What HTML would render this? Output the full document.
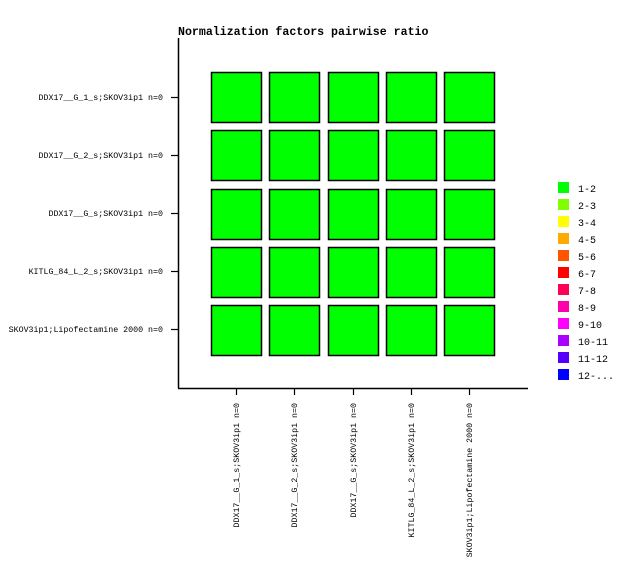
<!DOCTYPE html>
<html><head><meta charset="utf-8"><style>
html,body{margin:0;padding:0;background:#fff;}
svg text{font-family:"Liberation Mono","DejaVu Sans Mono",monospace;fill:#000;}
</style></head><body>
<svg width="636" height="560" xmlns="http://www.w3.org/2000/svg">
<rect width="636" height="560" fill="#fff"/>
<text x="178" y="35" font-size="11.6" font-weight="bold">Normalization factors pairwise ratio</text>
<line x1="178.5" y1="38" x2="178.5" y2="388" stroke="#000" stroke-width="1.5"/>
<line x1="178" y1="388.5" x2="528" y2="388.5" stroke="#000" stroke-width="1.5"/>
<g stroke="#000" stroke-width="1.2">
<line x1="171" y1="97.5" x2="178" y2="97.5"/>
<line x1="171" y1="155.5" x2="178" y2="155.5"/>
<line x1="171" y1="213.5" x2="178" y2="213.5"/>
<line x1="171" y1="271.5" x2="178" y2="271.5"/>
<line x1="171" y1="329.5" x2="178" y2="329.5"/>
<line x1="236.5" y1="388" x2="236.5" y2="395"/>
<line x1="294.5" y1="388" x2="294.5" y2="395"/>
<line x1="353.5" y1="388" x2="353.5" y2="395"/>
<line x1="411.5" y1="388" x2="411.5" y2="395"/>
<line x1="469.5" y1="388" x2="469.5" y2="395"/>
</g>
<g font-size="8.3" text-anchor="end">
<text x="163" y="100">DDX17__G_1_s;SKOV3ip1 n=0</text>
<text x="163" y="158">DDX17__G_2_s;SKOV3ip1 n=0</text>
<text x="163" y="216">DDX17__G_s;SKOV3ip1 n=0</text>
<text x="163" y="274">KITLG_84_L_2_s;SKOV3ip1 n=0</text>
<text x="163" y="332">SKOV3ip1;Lipofectamine 2000 n=0</text>
</g>
<g font-size="8.3" text-anchor="end">
<text transform="translate(239,403) rotate(-90)">DDX17__G_1_s;SKOV3ip1 n=0</text>
<text transform="translate(297,403) rotate(-90)">DDX17__G_2_s;SKOV3ip1 n=0</text>
<text transform="translate(356,403) rotate(-90)">DDX17__G_s;SKOV3ip1 n=0</text>
<text transform="translate(414,403) rotate(-90)">KITLG_84_L_2_s;SKOV3ip1 n=0</text>
<text transform="translate(472,403) rotate(-90)">SKOV3ip1;Lipofectamine 2000 n=0</text>
</g>
<g fill="#00ff00" stroke="#000" stroke-width="1.5">
<rect x="211.5" y="72.5" width="50" height="50"/><rect x="269.5" y="72.5" width="50" height="50"/><rect x="328.5" y="72.5" width="50" height="50"/><rect x="386.5" y="72.5" width="50" height="50"/><rect x="444.5" y="72.5" width="50" height="50"/>
<rect x="211.5" y="130.5" width="50" height="50"/><rect x="269.5" y="130.5" width="50" height="50"/><rect x="328.5" y="130.5" width="50" height="50"/><rect x="386.5" y="130.5" width="50" height="50"/><rect x="444.5" y="130.5" width="50" height="50"/>
<rect x="211.5" y="189.5" width="50" height="50"/><rect x="269.5" y="189.5" width="50" height="50"/><rect x="328.5" y="189.5" width="50" height="50"/><rect x="386.5" y="189.5" width="50" height="50"/><rect x="444.5" y="189.5" width="50" height="50"/>
<rect x="211.5" y="247.5" width="50" height="50"/><rect x="269.5" y="247.5" width="50" height="50"/><rect x="328.5" y="247.5" width="50" height="50"/><rect x="386.5" y="247.5" width="50" height="50"/><rect x="444.5" y="247.5" width="50" height="50"/>
<rect x="211.5" y="305.5" width="50" height="50"/><rect x="269.5" y="305.5" width="50" height="50"/><rect x="328.5" y="305.5" width="50" height="50"/><rect x="386.5" y="305.5" width="50" height="50"/><rect x="444.5" y="305.5" width="50" height="50"/>
</g>
<g>
<rect x="558" y="182" width="11" height="11" fill="#00ff00"/>
<rect x="558" y="199" width="11" height="11" fill="#80ff00"/>
<rect x="558" y="216" width="11" height="11" fill="#ffff00"/>
<rect x="558" y="233" width="11" height="11" fill="#ffaa00"/>
<rect x="558" y="250" width="11" height="11" fill="#ff5500"/>
<rect x="558" y="267" width="11" height="11" fill="#ff0000"/>
<rect x="558" y="284" width="11" height="11" fill="#ff0055"/>
<rect x="558" y="301" width="11" height="11" fill="#ff00aa"/>
<rect x="558" y="318" width="11" height="11" fill="#ff00ff"/>
<rect x="558" y="335" width="11" height="11" fill="#aa00ff"/>
<rect x="558" y="352" width="11" height="11" fill="#5500ff"/>
<rect x="558" y="369" width="11" height="11" fill="#0000ff"/>
</g>
<g font-size="10">
<text x="578" y="192">1-2</text>
<text x="578" y="209">2-3</text>
<text x="578" y="226">3-4</text>
<text x="578" y="243">4-5</text>
<text x="578" y="260">5-6</text>
<text x="578" y="277">6-7</text>
<text x="578" y="294">7-8</text>
<text x="578" y="311">8-9</text>
<text x="578" y="328">9-10</text>
<text x="578" y="345">10-11</text>
<text x="578" y="362">11-12</text>
<text x="578" y="379">12-...</text>
</g>
</svg>
</body></html>
